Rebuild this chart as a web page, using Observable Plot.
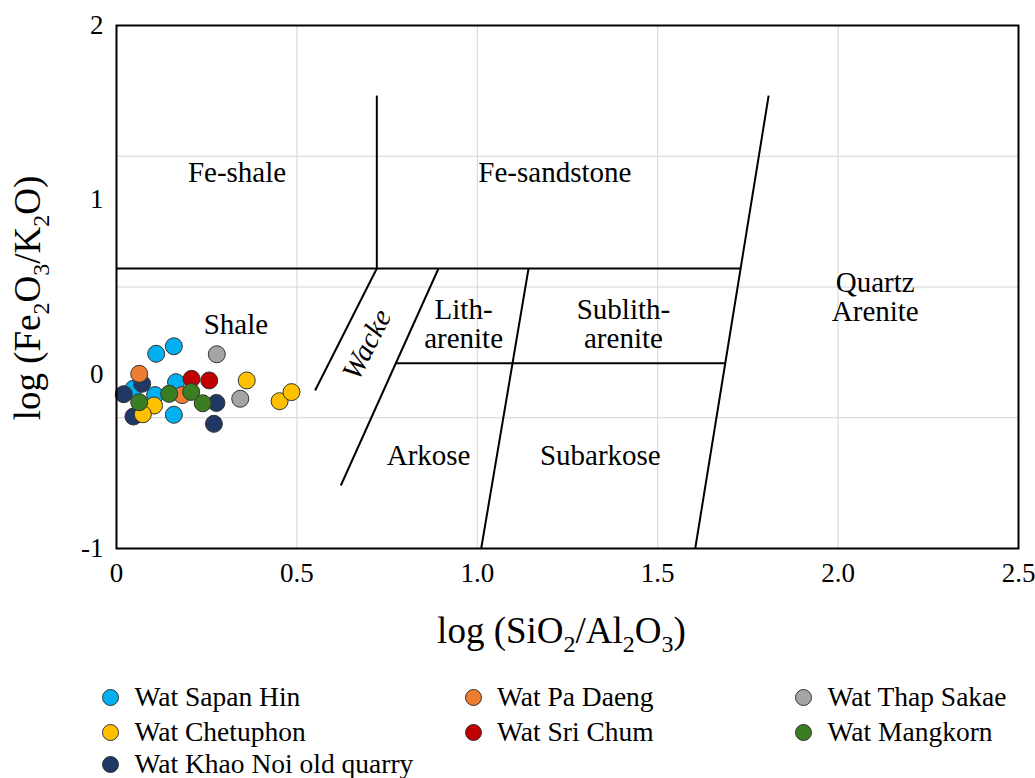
<!DOCTYPE html>
<html>
<head>
<meta charset="utf-8">
<script src="https://cdn.jsdelivr.net/npm/d3@7"></script>
<script src="https://cdn.jsdelivr.net/npm/@observablehq/plot@0.6"></script>
<style>
  body { margin: 0; background: #ffffff; }
  #wrap { position: relative; width: 1035px; height: 778px; background: #fff;
          font-family: "Liberation Serif", "Times New Roman", serif; color: #000; }
  #chart { position: absolute; left: 0; top: 0; }
  .item { position: absolute; display: flex; align-items: center; height: 26px;
          font-size: 27.5px; line-height: 26px; white-space: nowrap; }
  .mk { width: 17px; height: 17px; border-radius: 50%; box-sizing: border-box;
        border: 1px solid #333; flex: none; }
  .lb { margin-left: 15.5px; }
</style>
</head>
<body>
<div id="wrap"><div id="chart"></div><div id="legend"></div></div>
<script>
// ---------- data ----------
const siteNames = ["Wat Sapan Hin", "Wat Chetuphon", "Wat Khao Noi old quarry",
                   "Wat Pa Daeng", "Wat Sri Chum", "Wat Thap Sakae", "Wat Mangkorn"];
const siteColors = ["#00B0F0", "#FFC000", "#203864", "#ED7D31", "#C00000", "#A5A5A5", "#3B7D23"];

// log(SiO2/Al2O3) and log(Fe2O3/K2O) for each site
const sapanHinX  = [0.110, 0.159, 0.047, 0.107, 0.165, 0.159];
const sapanHinY  = [0.117, 0.160, -0.084, -0.120, -0.046, -0.233];
const chetuphonX = [0.104, 0.073, 0.361, 0.452, 0.485];
const chetuphonY = [-0.180, -0.230, -0.036, -0.155, -0.103];
const khaoNoiX   = [0.071, 0.020, 0.047, 0.277, 0.270];
const khaoNoiY   = [-0.055, -0.115, -0.243, -0.165, -0.285];
const paDaengX   = [0.063, 0.182];
const paDaengY   = [0.002, -0.120];
const sriChumX   = [0.208, 0.257];
const sriChumY   = [-0.027, -0.036];
const thapSakaeX = [0.278, 0.343];
const thapSakaeY = [0.114, -0.141];
const mangkornX  = [0.063, 0.146, 0.207, 0.239];
const mangkornY  = [-0.161, -0.113, -0.102, -0.167];

// Herron (1988) classification boundaries: [x1, y1, x2, y2]
const boundaryLines = [
  [0.7215, 1.598, 0.7215, 0.606],
  [0.0,    0.606, 1.7298, 0.606],
  [1.8075, 1.598, 1.604, -1.0],
  [0.7215, 0.606, 0.5504, -0.0936],
  [0.8924, 0.606, 0.6217, -0.6386],
  [1.142,  0.606, 1.0108, -1.0],
  [0.7743, 0.063, 1.6873, 0.063]
];

const regionNames = ["Fe-shale", "Fe-sandstone", "Shale", "Lith-\narenite", "Sublith-\narenite",
                     "Arkose", "Subarkose", "Quartz\nArenite"];
const regionX = [0.334, 1.215, 0.331, 0.962, 1.405, 0.865, 1.341, 2.103];
const regionY = [1.157, 1.158, 0.285, 0.285, 0.285, -0.467, -0.467, 0.442];
const wackeLabel = {name: "Wacke", x: 0.694, y: 0.170};

const xTicks = [0, 0.5, 1.0, 1.5, 2.0, 2.5];
const yTicks = [-1, 0, 1, 2];
const xGrid = [0.5, 1.0, 1.5, 2.0];
const yGrid = [1.25, 0.5, -0.25];

const xTitleParts = [["log (SiO", 0], ["2", 1], ["/Al", 0], ["2", 1], ["O", 0], ["3", 1], [")", 0]];
const yTitleParts = [["log (Fe", 0], ["2", 1], ["O", 0], ["3", 1], ["/K", 0], ["2", 1], ["O)", 0]];

// ---------- tables ----------
const seriesX = [sapanHinX, chetuphonX, khaoNoiX, paDaengX, sriChumX, thapSakaeX, mangkornX];
const seriesY = [sapanHinY, chetuphonY, khaoNoiY, paDaengY, sriChumY, thapSakaeY, mangkornY];
const drawOrder = [0, 2, 3, 1, 4, 5, 6];
const points = [];
for (const s of drawOrder) {
  seriesX[s].forEach((x, i) => points.push({site: siteNames[s], x, y: seriesY[s][i]}));
}
const regions = regionNames.map((name, i) => ({name, x: regionX[i], y: regionY[i]}));
const joinParts = p => p.map(d => d[0]).join("");

const font = '"Liberation Serif", "Times New Roman", serif';

const plot = Plot.plot({
  width: 1035, height: 670,
  marginTop: 25, marginBottom: 122, marginLeft: 116, marginRight: 17,
  x: {domain: [0, 2.5]},
  y: {domain: [-1, 2]},
  color: {domain: siteNames, range: siteColors},
  style: {fontFamily: font, color: "black", background: "white", overflow: "visible"},
  marks: [
    Plot.gridX(xGrid, {stroke: "#d4d4d4", strokeOpacity: 1, strokeWidth: 1}),
    Plot.gridY(yGrid, {stroke: "#d4d4d4", strokeOpacity: 1, strokeWidth: 1}),
    Plot.axisX(xTicks, {tickSize: 0, tickPadding: 14, fontSize: 27, label: null,
      tickFormat: d => d === 0 ? "0" : d.toFixed(1)}),
    Plot.axisY(yTicks, {tickSize: 0, tickPadding: 13, fontSize: 27, label: null,
      tickFormat: d => String(d)}),
    Plot.link(boundaryLines, {x1: d => d[0], y1: d => d[1], x2: d => d[2], y2: d => d[3],
      stroke: "black", strokeWidth: 2}),
    Plot.text(regions, {x: "x", y: "y", text: "name", fontSize: 29, lineHeight: 1.0, fill: "black"}),
    Plot.text([wackeLabel], {x: "x", y: "y", text: "name", fontSize: 29, rotate: -63,
      fontStyle: "italic", fill: "black"}),
    Plot.dot(points, {x: "x", y: "y", fill: "site", r: 8.5, stroke: "#333", strokeWidth: 1}),
    Plot.frame({stroke: "black", strokeWidth: 2}),
    Plot.text([joinParts(xTitleParts)], {frameAnchor: "bottom", dx: -6, dy: 83, fontSize: 37, fill: "black",
      textAnchor: "middle", lineAnchor: "middle"}),
    Plot.text([joinParts(yTitleParts)], {frameAnchor: "left", dx: -88, dy: 11, rotate: -90,
      fontSize: 37, fill: "black", textAnchor: "middle", lineAnchor: "middle"})
  ]
});

// subscripts in axis titles
function subscriptify(el, parts) {
  const ns = "http://www.w3.org/2000/svg";
  el.textContent = "";
  let shifted = false;
  for (const [s, sub] of parts) {
    const t = document.createElementNS(ns, "tspan");
    t.textContent = s;
    if (sub) {
      t.setAttribute("font-size", "24");
      if (!shifted) { t.setAttribute("dy", "9"); shifted = true; }
    } else if (shifted) {
      t.setAttribute("dy", "-9"); shifted = false;
    }
    el.appendChild(t);
  }
}
d3.select(plot).selectAll("text").each(function () {
  if (this.textContent === joinParts(xTitleParts)) subscriptify(this, xTitleParts);
  else if (this.textContent === joinParts(yTitleParts)) subscriptify(this, yTitleParts);
});

document.getElementById("chart").appendChild(plot);

// legend
const legendCol = [0, 0, 0, 1, 1, 2, 2];
const legendRow = [0, 1, 2, 0, 1, 0, 1];
const colCx = [110.5, 473, 803.5];
const rowCy = [697, 732, 764];
const leg = d3.select("#legend");
siteNames.forEach((name, i) => {
  const it = leg.append("div").attr("class", "item")
    .style("left", (colCx[legendCol[i]] - 8.5) + "px")
    .style("top", (rowCy[legendRow[i]] - 13) + "px");
  it.append("span").attr("class", "mk").style("background", siteColors[i]);
  it.append("span").attr("class", "lb").text(name);
});
</script>
</body>
</html>
